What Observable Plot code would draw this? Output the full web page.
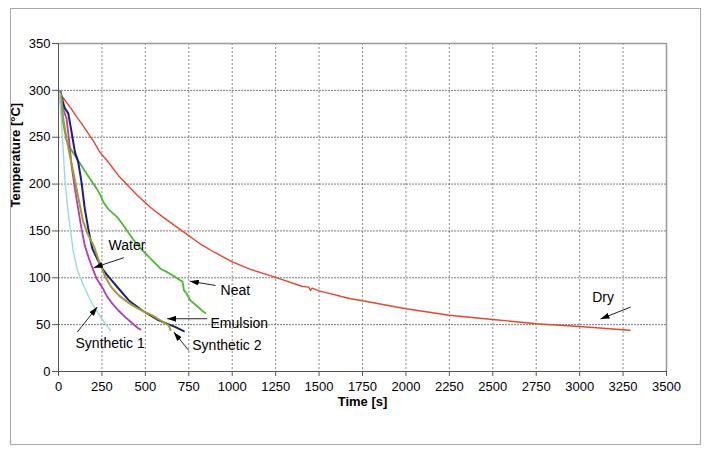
<!DOCTYPE html>
<html>
<head>
<meta charset="utf-8">
<script src="https://cdn.jsdelivr.net/npm/d3@7"></script>
<script src="https://cdn.jsdelivr.net/npm/@observablehq/plot@0.6"></script>
<style>
  body { margin: 0; background: #fff; }
  #wrap { position: relative; width: 705px; height: 450px; }
  #border { position: absolute; left: 10px; top: 8px; width: 691px; height: 437px; border: 1px solid #a8a8a8; box-sizing: border-box; pointer-events: none; }
</style>
</head>
<body>
<div id="wrap"><div id="border"></div></div>
<script>
// Time [s], Temperature [°C] readings per quench medium
const dry = [[5,297],[30,291],[60,284],[100,273],[142,262],[200,246],[242,233],[276,226],[350,208],[453,188],[530,175],[600,165],[741,146],[817,136],[900,127],[1000,117],[1105,109],[1250,100.5],[1400,91],[1440,90],[1451,86.5],[1460,89],[1500,86],[1681,77.6],[1750,75.5],[2000,67],[2250,60],[2500,55.5],[2750,51],[3000,48],[3250,44.5],[3290,44]];
const neat = [[9,294],[17,276.6],[29,262.7],[46,246.7],[69,238],[104,227.5],[142,216.8],[180,206],[219,195.4],[242,188],[257,181.2],[288,173],[338,164.8],[386,152.7],[434,139.9],[478,130.3],[530,120.4],[587,109.7],[626,106],[674,100.7],[702,97.2],[714,96],[722,86.5],[737,83.3],[760,75.8],[800,69.4],[837,63.3],[846,62.5]];
const water = [[8,297],[17,289],[29,278.7],[46,270],[61.6,245.6],[75,220],[94,195.4],[113,174],[132,152.7],[151,134.6],[173,121.8],[194,111.1],[219,99.3],[252,89.7],[276,81.2],[309,72.6],[345,65.1],[386,57.7],[420,52.3],[460,45.9],[472,44.9]];
const emulsion = [[11.5,298.7],[23,289.4],[36,281],[56,275.5],[75,256],[94,234.6],[113,224],[132,202.6],[151,174],[171,152.7],[194,131.4],[232,116.7],[259,107.9],[290,100.7],[347,88.3],[405,75.8],[482,65.1],[577,54.5],[674,47.3],[721,43]];
const synthetic2 = [[11.5,298],[17,291.6],[27,270],[46,248.8],[65,231],[84.6,213.3],[103.6,195.4],[122.6,177.6],[142,159.9],[171,145.6],[201.5,134.6],[242,113.2],[270.6,100.7],[305,89.7],[347,81.2],[391.5,74.8],[443,68.7],[489,64.1],[539,59.8],[587,54.5],[635,49.1],[645,44.3]];
const synthetic1 = [[6,297],[11.5,281],[17,267],[27,235.9],[37.4,203.9],[51.8,176.2],[69,150.6],[86,127.1],[109,107.9],[144,91.9],[184,75.8],[224.5,63],[265,52.3],[299,43.8]];

const seriesNames = ["Dry", "Neat", "Water", "Emulsion", "Synthetic 2", "Synthetic 1"];
const seriesData = [dry, neat, water, emulsion, synthetic2, synthetic1];
const seriesColors = ["#e8452a", "#4cba34", "#b43cb4", "#1c1c8a", "#a39d2a", "#9fd8dc"];
const seriesWidths = [1.4, 1.8, 1.8, 2, 2, 1.4];

// annotation labels: [text, t, T] and arrows [t1, T1, t2, T2]
const labelText = ["Water", "Neat", "Emulsion", "Synthetic 2", "Synthetic 1", "Dry"];
const labelPos = [[288,134.6],[933,86.5],[875,51],[770,27.8],[98,29.6],[3072,79.4]];
const arrowPos = [[376,121.4,203,110.8],[904,91.8,756,96.4],[856,56.3,626,56.3],[750,22.4,664,42],[108,42,223,68.7],[3293,68.7,3120,56]];

const xTicks = d3.range(0, 3501, 250);
const yTicks = d3.range(0, 351, 50);

const labels = labelText.map((s, i) => ({text: s, t: labelPos[i][0], T: labelPos[i][1]}));
const arrows = arrowPos.map(a => ({t1: a[0], T1: a[1], t2: a[2], T2: a[3]}));

const marks = [
  Plot.gridX(xTicks, {stroke: "#8a8a8a", strokeOpacity: 1, strokeDasharray: "2,2"}),
  Plot.gridY(yTicks, {stroke: "#7a7a7a", strokeOpacity: 1, strokeDasharray: "2,1"}),
  Plot.ruleY([350], {stroke: "#9a9a9a", strokeWidth: 1.5}),
  Plot.ruleX([3500], {stroke: "#9a9a9a", strokeWidth: 1.5}),
  Plot.ruleX([0], {stroke: "#555"}),
  Plot.ruleY([0], {stroke: "#555"}),
  Plot.axisX({ticks: xTicks, tickFormat: d3.format("d"), tickSize: 5, tickPadding: 5, label: null, stroke: "#555", fill: "#000", fontSize: 13}),
  Plot.axisY({ticks: yTicks, tickFormat: d3.format("d"), tickSize: 6, tickPadding: 2, label: null, stroke: "#555", fill: "#000", fontSize: 13}),
  ...seriesData.map((d, i) => Plot.line(d, {x: p => p[0], y: p => p[1], stroke: seriesColors[i], strokeWidth: seriesWidths[i]})),
  Plot.link(arrows, {x1: "t1", y1: "T1", x2: "t2", y2: "T2", stroke: "#222", strokeWidth: 1}),
  Plot.text(labels, {x: "t", y: "T", text: "text", textAnchor: "start", fontSize: 14, fill: "#000"}),
  Plot.text(["Time [s]"], {frameAnchor: "bottom", dy: 34, fontWeight: "bold", fontSize: 13, fill: "#000"}),
  Plot.text(["Temperature [°C]"], {frameAnchor: "left", dx: -43, rotate: -90, fontWeight: "bold", fontSize: 13, fill: "#000"})
];

const svg = Plot.plot({
  width: 705,
  height: 450,
  marginLeft: 58,
  marginRight: 39,
  marginTop: 43,
  marginBottom: 79,
  x: {domain: [0, 3500]},
  y: {domain: [0, 350]},
  style: {fontFamily: "'Liberation Sans', Arial, sans-serif", fontSize: "13px", background: "transparent", color: "#000"},
  marks
});

const defs = d3.select(svg).insert("defs", ":first-child");
defs.append("marker")
  .attr("id", "ah").attr("viewBox", "0 0 9 6").attr("refX", 9).attr("refY", 3)
  .attr("markerWidth", 9).attr("markerHeight", 6).attr("markerUnits", "userSpaceOnUse").attr("orient", "auto")
  .append("path").attr("d", "M0,0L9,3L0,6Z").attr("fill", "#000");
d3.select(svg).selectAll('g[aria-label="link"] path').attr("marker-end", "url(#ah)");

document.getElementById("wrap").appendChild(svg);
svg.style.position = "absolute";
svg.style.left = "0";
svg.style.top = "0";
</script>
</body>
</html>
